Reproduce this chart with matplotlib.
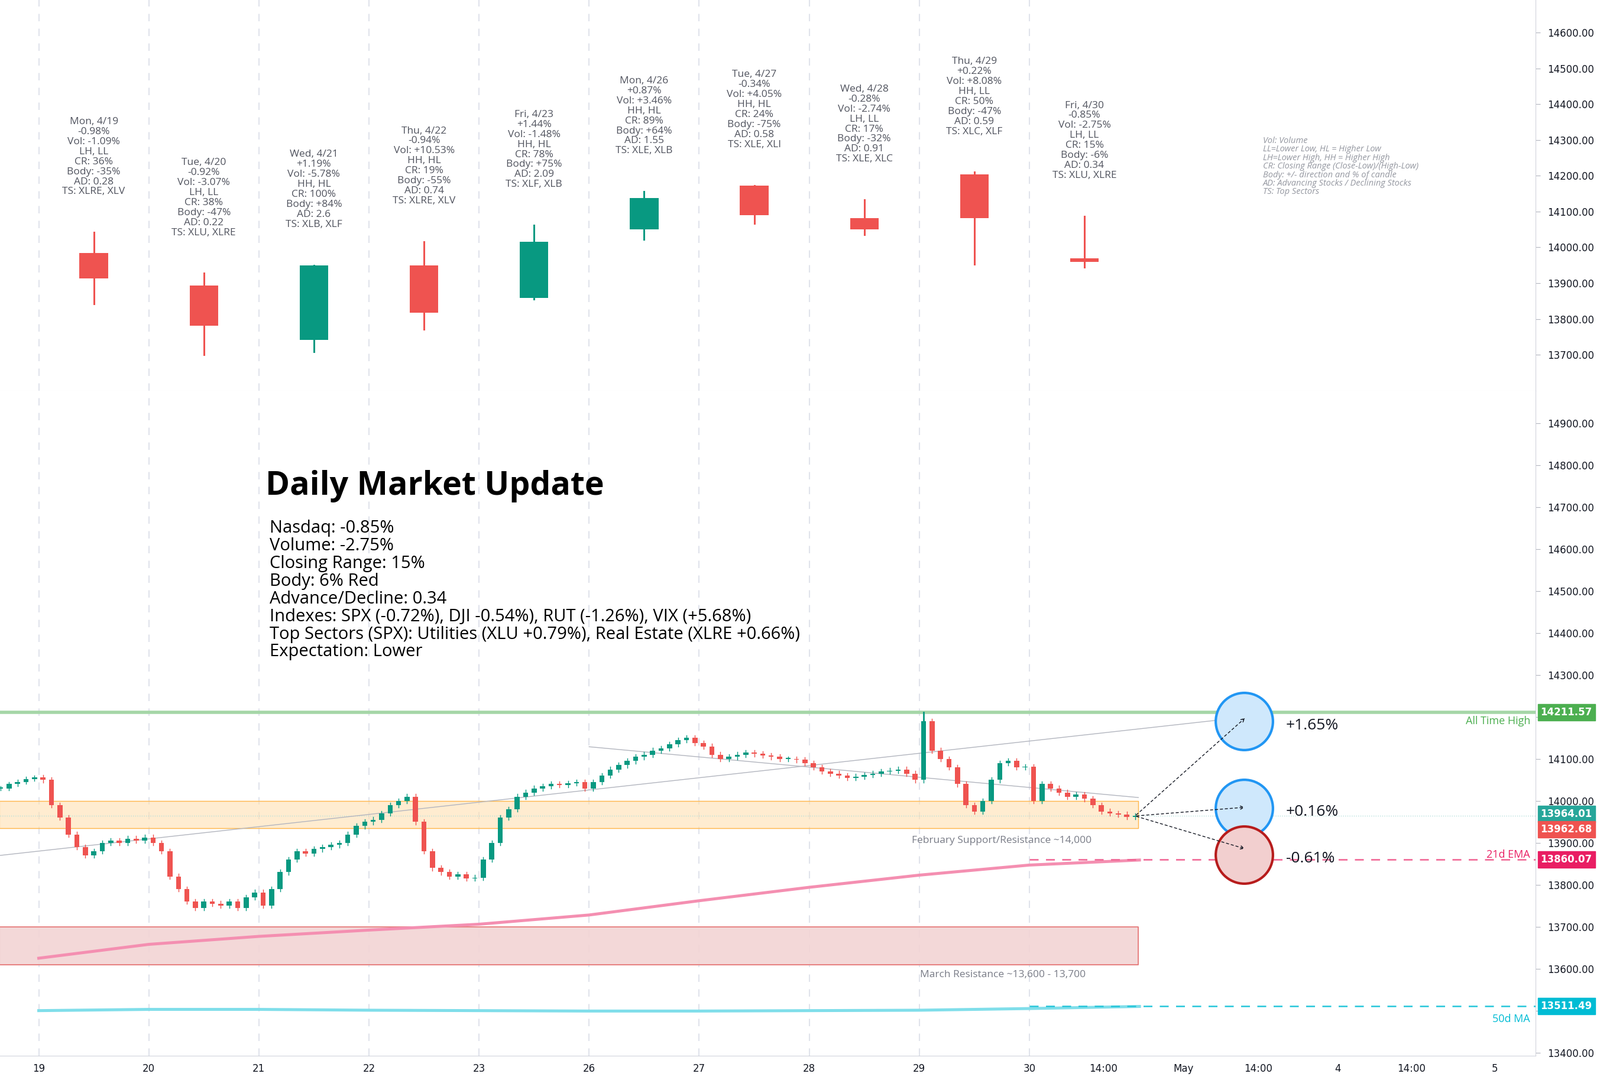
import matplotlib
matplotlib.use("Agg")
import matplotlib.pyplot as plt
import numpy as np

# ---------------- data ----------------
days = ["Mon, 4/19", "Tue, 4/20", "Wed, 4/21", "Thu, 4/22", "Fri, 4/23",
        "Mon, 4/26", "Tue, 4/27", "Wed, 4/28", "Thu, 4/29", "Fri, 4/30"]
d_open  = [13985, 13893, 13742, 13950, 13859, 14050, 14173, 14081, 14204, 13970]
d_high  = [14042, 13928, 13950, 14016, 14062, 14156, 14173, 14133, 14210, 14087]
d_low   = [13842, 13700, 13708, 13771, 13856, 14022, 14067, 14036, 13953, 13945]
d_close = [13913, 13782, 13950, 13817, 14016, 14138, 14090, 14050, 14081, 13959]
d_notes = [
    ["-0.98%", "Vol: -1.09%", "LH, LL", "CR: 36%", "Body: -35%", "AD: 0.28", "TS: XLRE, XLV"],
    ["-0.92%", "Vol: -3.07%", "LH, LL", "CR: 38%", "Body: -47%", "AD: 0.22", "TS: XLU, XLRE"],
    ["+1.19%", "Vol: -5.78%", "HH, HL", "CR: 100%", "Body: +84%", "AD: 2.6", "TS: XLB, XLF"],
    ["-0.94%", "Vol: +10.53%", "HH, HL", "CR: 19%", "Body: -55%", "AD: 0.74", "TS: XLRE, XLV"],
    ["+1.44%", "Vol: -1.48%", "HH, HL", "CR: 78%", "Body: +75%", "AD: 2.09", "TS: XLF, XLB"],
    ["+0.87%", "Vol: +3.46%", "HH, HL", "CR: 89%", "Body: +64%", "AD: 1.55", "TS: XLE, XLB"],
    ["-0.34%", "Vol: +4.05%", "HH, HL", "CR: 24%", "Body: -75%", "AD: 0.58", "TS: XLE, XLI"],
    ["-0.28%", "Vol: -2.74%", "LH, LL", "CR: 17%", "Body: -32%", "AD: 0.91", "TS: XLE, XLC"],
    ["+0.22%", "Vol: +8.08%", "HH, LL", "CR: 50%", "Body: -47%", "AD: 0.59", "TS: XLC, XLF"],
    ["-0.85%", "Vol: -2.75%", "LH, LL", "CR: 15%", "Body: -6%", "AD: 0.34", "TS: XLU, XLRE"],
]

# intraday (30-min) closes per session; first list = tail of 4/16
pre_closes = [14030, 14040, 14045, 14052, 14056]
intraday_closes = [
    [14050, 13990, 13960, 13920, 13890, 13870, 13880, 13900, 13905, 13900, 13910, 13905, 13913],
    [13900, 13880, 13820, 13790, 13760, 13745, 13760, 13755, 13750, 13760, 13745, 13770, 13782],
    [13750, 13790, 13830, 13860, 13880, 13875, 13885, 13890, 13895, 13900, 13920, 13940, 13950],
    [13955, 13970, 13990, 14000, 14010, 13950, 13880, 13840, 13830, 13820, 13825, 13815, 13817],
    [13860, 13900, 13960, 13980, 14010, 14020, 14030, 14035, 14040, 14038, 14042, 14045, 14030],
    [14045, 14060, 14075, 14085, 14095, 14105, 14110, 14120, 14125, 14135, 14145, 14150, 14138],
    [14130, 14110, 14100, 14105, 14110, 14115, 14112, 14108, 14105, 14100, 14100, 14098, 14090],
    [14080, 14070, 14065, 14060, 14055, 14058, 14062, 14065, 14070, 14072, 14075, 14065, 14050],
    [14190, 14120, 14100, 14080, 14040, 13990, 13975, 14000, 14050, 14090, 14095, 14080, 14081],
    [14000, 14040, 14030, 14020, 14010, 14015, 14005, 13990, 13975, 13970, 13968, 13962, 13964],
]
ema21 = [13625, 13658, 13677, 13692, 13706, 13728, 13762, 13794, 13823, 13847, 13859]
ma50  = [13500, 13503, 13503, 13501, 13500, 13499, 13499, 13500, 13501, 13505, 13510]
ath = 14211.57
last_close = 13964.01
prev_close = 13962.68
ema_last = 13860.07
ma_last = 13511.49
targets = [14200, 13985, 13885]
target_labels = ["+1.65%", "+0.16%", "-0.61%"]
circle_y = [14190, 13983, 13872]

tick_pos = [0, 1, 2, 3, 4, 5, 6, 7, 8, 9, 9.67, 10.4, 11.08, 11.8, 12.47, 13.23]
tick_lab = ["19", "20", "21", "22", "23", "26", "27", "28", "29", "30", "14:00",
            "May", "14:00", "4", "14:00", "5"]

RED = "#ef5350"
GRN = "#089981"
GRID = "#e0e3eb"
TXT = "#131722"
FONT = "Open Sans"

W, H = 2706, 1827
fig = plt.figure(figsize=(W / 100, H / 100), dpi=100)
fig.patch.set_facecolor("white")
axr = 1505 / 1568
top_b = 1 - 383 / 1059
bot_b = 1 - 1035 / 1059
ax1 = fig.add_axes([0, top_b, axr, 1 - top_b])
ax2 = fig.add_axes([0, bot_b, axr, top_b - bot_b], sharex=ax1)

xmin, xmax = -0.352, 13.6
for ax in (ax1, ax2):
    ax.set_facecolor("white")
    ax.yaxis.tick_right()
    for s in ("left", "top"):
        ax.spines[s].set_visible(False)
    ax.spines["right"].set_color("#d1d4dc")
    ax.spines["bottom"].set_color("#d1d4dc")
    ax.tick_params(axis="y", length=6, color="#b2b5be", labelsize=12, labelcolor=TXT, pad=8)
    for xb in range(10):
        ax.axvline(xb, color=GRID, lw=1.5, ls=(0, (6, 6)), zorder=0)
ax1.set_xlim(xmin, xmax)
ax1.tick_params(axis="x", length=0, labelbottom=False)
ax1.spines["bottom"].set_color("#e0e3eb")

# ---------------- top pane: daily candles ----------------
ax1.set_ylim(13600, 14691)
ax1.set_yticks(np.arange(13700, 14601, 100))
ax1.set_yticklabels([f"{v:.2f}" for v in np.arange(13700, 14601, 100)])
for i in range(10):
    x = i + 0.5
    c = GRN if d_close[i] >= d_open[i] else RED
    ax1.plot([x, x], [d_low[i], d_high[i]], color=c, lw=2.2, zorder=2)
    lo, hi = sorted([d_open[i], d_close[i]])
    ax1.bar(x, max(hi - lo, 4), bottom=lo, width=0.26, color=c, zorder=3)
    ax1.text(x, d_high[i] + 100, "\n".join([days[i]] + d_notes[i]), ha="center", va="bottom",
             fontsize=12.5, color="#50535e", family=FONT, linespacing=1.08)
legend_txt = ("Vol: Volume\nLL=Lower Low, HL = Higher Low\nLH=Lower High, HH = Higher High\n"
              "CR: Closing Range (Close-Low)/(High-Low)\nBody: +/- direction and % of candle\n"
              "AD: Advancing Stocks / Declining Stocks\nTS: Top Sectors")
ax1.text(11.12, 14310, legend_txt, ha="left", va="top", fontsize=10.5, style="italic",
         color="#9598a1", family=FONT, linespacing=0.95)

# ---------------- bottom pane ----------------
ax2.set_ylim(13393, 14978)
yt = np.arange(13400, 14901, 100)
ax2.set_yticks(yt)
ax2.set_yticklabels([f"{v:.2f}" for v in yt])
ax2.set_xticks(tick_pos)
ax2.set_xticklabels(tick_lab)
ax2.tick_params(axis="x", length=0, labelsize=12, labelcolor=TXT, pad=10)

# zones
ax2.fill_between([xmin, 9.99], 13935, 14000, color="#ffe0b2", alpha=0.6, zorder=1)
ax2.plot([xmin, 9.99, 9.99, xmin], [14000, 14000, 13935, 13935], color="#ffb74d", lw=1, zorder=1)
ax2.fill_between([xmin, 9.99], 13610, 13700, color="#f2d4d4", alpha=0.9, zorder=1)
ax2.plot([xmin, 9.99, 9.99, xmin], [13700, 13700, 13610, 13610], color="#e57373", lw=1.2, zorder=1)
ax2.axhline(ath, color="#a5d6a7", lw=4, zorder=1)
ax2.axhline(last_close, color="#b2dfdb", lw=1, ls=":", zorder=1)

# MAs
ex = np.arange(len(ema21))
ax2.plot(ex, ema21, color="#f48fb1", lw=3.6, zorder=2)
ax2.plot(ex, ma50, color="#80deea", lw=3.6, zorder=2)
ax2.plot([9, xmax], [ema_last, ema_last], color="#f06292", lw=1.8, ls=(0, (6, 5)), zorder=2)
ax2.plot([9, xmax], [ma_last, ma_last], color="#26c6da", lw=1.8, ls=(0, (6, 5)), zorder=2)

# trend lines
ax2.plot([xmin, 10.97], [13870, 14200], color="#b2b5be", lw=1, zorder=2)
ax2.plot([5.0, 9.99], [14129, 14008], color="#b2b5be", lw=1, zorder=2)

# intraday candles
nb = 13
bw = 1 / nb
prev = pre_closes[0]
for k, c in enumerate(pre_closes):
    x = -len(pre_closes) * bw + k * bw + bw / 2
    o = prev
    col = GRN if c >= o else RED
    ax2.plot([x, x], [min(o, c) - 5, max(o, c) + 5], color=col, lw=1, zorder=3)
    ax2.bar(x, max(abs(c - o), 2), bottom=min(o, c), width=bw * 0.6, color=col, zorder=3)
    prev = c
for d, closes in enumerate(intraday_closes):
    for k, c in enumerate(closes):
        x = d + k * bw + bw / 2
        o = prev
        col = GRN if c >= o else RED
        ax2.plot([x, x], [min(o, c) - 6, max(o, c) + 6], color=col, lw=1, zorder=3)
        ax2.bar(x, max(abs(c - o), 2), bottom=min(o, c), width=bw * 0.6, color=col, zorder=3)
        prev = c
ax2.plot([8.0 + bw / 2] * 2, [14100, ath], color=GRN, lw=2, zorder=3)

# target circles and arrows
ccols = [("#cfe8fc", "#2196f3"), ("#cfe8fc", "#2196f3"), ("#f2cfcf", "#b71c1c")]
for ty, cy, lab, (fc, ec) in zip(targets, circle_y, target_labels, ccols):
    ax2.scatter([10.95], [cy], s=4850, facecolor=fc, edgecolor=ec, linewidth=3, zorder=4)
    ax2.annotate("", xy=(10.97, ty), xytext=(9.96, last_close),
                 arrowprops=dict(arrowstyle="->", ls=(0, (3, 3)), color="#131722", lw=1), zorder=5)
    ax2.text(11.33, cy - 10, lab, fontsize=19, va="center", ha="left", color=TXT, family=FONT)

# labels on lines
ax2.text(13.55, 14190, "All Time High", color="#4caf50", fontsize=13, ha="right", va="center", family=FONT)
ax2.text(13.55, 13872, "21d EMA", color="#e91e63", fontsize=13, ha="right", va="center", family=FONT)
ax2.text(13.55, 13480, "50d MA", color="#00bcd4", fontsize=13, ha="right", va="center", family=FONT)
ax2.text(8.75, 13905, "February Support/Resistance ~14,000", color="#787b86", fontsize=12.5,
         ha="center", va="center", family=FONT)
ax2.text(8.76, 13585, "March Resistance ~13,600 - 13,700", color="#787b86", fontsize=12.5,
         ha="center", va="center", family=FONT)

# right-side price tags
tags = [(ath, "#4caf50"), (last_close, "#26a69a"), (prev_close, RED), (ema_last, "#e91e63"),
        (ma_last, "#00bcd4")]
offs = [0, 5, -30, 0, 0]
for (v, col), off in zip(tags, offs):
    ax2.annotate(f"{v:.2f}", xy=(1.0, v + off), xycoords=("axes fraction", "data"),
                 xytext=(6, 0), textcoords="offset points", ha="left", va="center",
                 fontsize=12, color="white", fontweight="bold", annotation_clip=False,
                 bbox=dict(boxstyle="square,pad=0.3", fc=col, ec=col), zorder=10)

# text block
ax2.text(2.06, 14750, "Daily Market Update", fontsize=40, fontweight="bold", color="black",
         family=FONT, va="center", ha="left")
body = ("Nasdaq: -0.85%\nVolume: -2.75%\nClosing Range: 15%\nBody: 6% Red\nAdvance/Decline: 0.34\n"
        "Indexes: SPX (-0.72%), DJI -0.54%), RUT (-1.26%), VIX (+5.68%)\n"
        "Top Sectors (SPX): Utilities (XLU +0.79%), Real Estate (XLRE +0.66%)\nExpectation: Lower")
ax2.text(2.1, 14670, body, fontsize=21, color="black", family=FONT, va="top", ha="left",
         linespacing=1.04)

fig.savefig("out.png", dpi=100, facecolor="white")
